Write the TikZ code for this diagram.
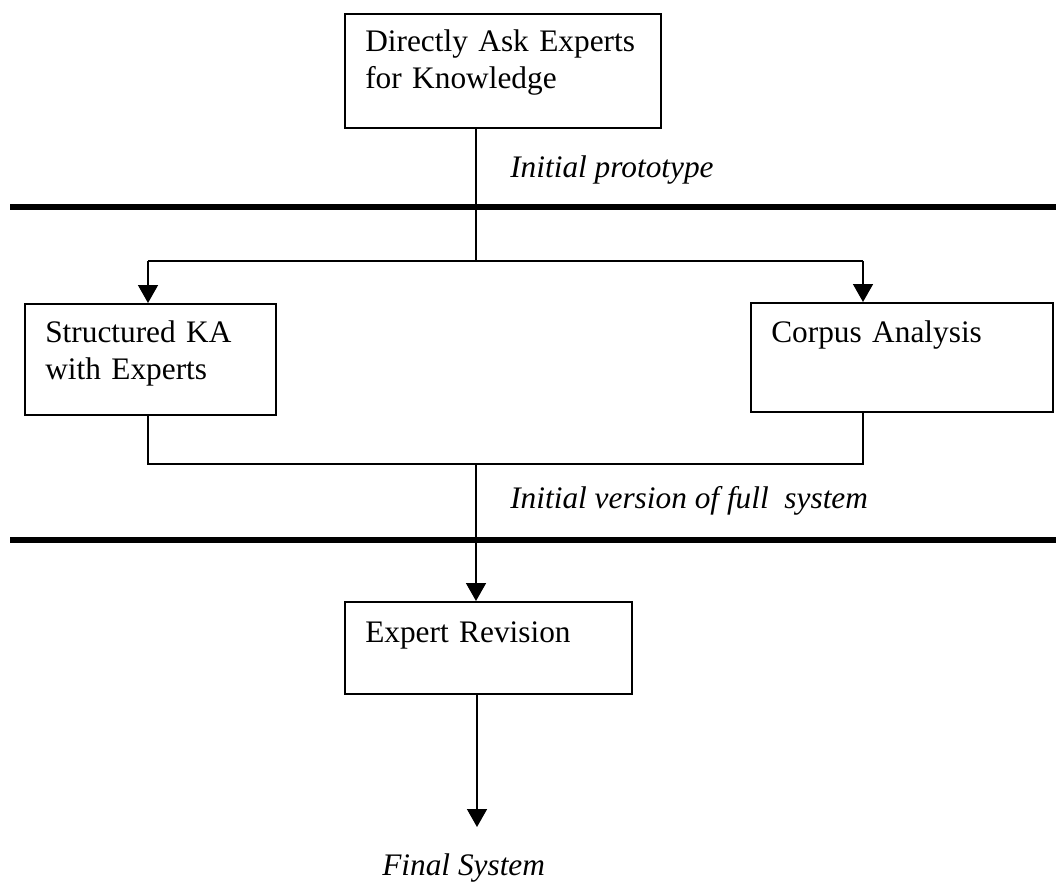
\documentclass[tikz,border=0pt]{standalone}
\usepackage{fontspec}
\setmainfont{Liberation Serif}
\usetikzlibrary{arrows.meta,calc}
\tikzset{
  boxnode/.style={draw, line width=1.2pt, rectangle, inner sep=0pt, anchor=north west},
  boxtext/.style={inner sep=0pt, anchor=base west, text width=10cm, align=left, font=\fontsize{23.5}{27.75}\selectfont},
  labeltext/.style={inner sep=0pt, anchor=base west, font=\fontsize{23.5}{27.75}\selectfont\itshape},
  conn/.style={line width=1.2pt},
  arrowconn/.style={line width=1.2pt, -{Triangle[width=15pt,length=13.5pt]}},
  phase/.style={line width=4.5pt}
}
\begin{document}
\begin{tikzpicture}[x=0.75pt,y=-0.75pt]
\useasboundingbox (0,0) rectangle (1056,884);
% boxes
\node[boxnode, minimum width=316*0.75pt, minimum height=114*0.75pt] (top) at (344,13) {};
\node[boxnode, minimum width=251*0.75pt, minimum height=111*0.75pt] (ka) at (24,303) {};
\node[boxnode, minimum width=302*0.75pt, minimum height=109*0.75pt] (corpus) at (750,302) {};
\node[boxnode, minimum width=287*0.75pt, minimum height=92*0.75pt] (rev) at (344,601) {};
% box texts
\node[boxtext] (toptext) at ($(top.north west)+(21,39)$) {Directly Ask Experts\\for Knowledge};
\node[boxtext] (katext) at ($(ka.north west)+(21,39)$) {Structured KA\\with Experts};
\node[boxtext] (corpustext) at ($(corpus.north west)+(21,40)$) {Corpus Analysis};
\node[boxtext] (revtext) at ($(rev.north west)+(21,41)$) {Expert Revision};
% phase separators
\coordinate (p1l) at (10,207);
\coordinate (p1r) at (1056,207);
\coordinate (p2l) at (10,540);
\coordinate (p2r) at (1056,540);
\draw[phase] (p1l) -- (p1r);
\draw[phase] (p2l) -- (p2r);
% labels
\node[labeltext] (lab1) at (510,178) {Initial prototype};
\node[labeltext] (lab2) at (510,508) {Initial version of full\ \ system};
\node[labeltext] (lab3) at (382,875) {Final System};
% connectors
\coordinate (trunk) at (476,261);
\coordinate (lsplit) at (148,261);
\coordinate (rsplit) at (863,261);
\coordinate (ljoin) at (148,464);
\coordinate (rjoin) at (863,464);
\coordinate (merge) at (476,464);
\coordinate (final) at (477,827);
\draw[conn] (top.south -| trunk) -- (trunk);
\draw[conn] (lsplit) -- (rsplit);
\draw[arrowconn] (lsplit) -- (lsplit |- ka.north);
\draw[arrowconn] (rsplit) -- (rsplit |- corpus.north);
\draw[conn] (ljoin |- ka.south) -- (ljoin) -- (rjoin) -- (rjoin |- corpus.south);
\draw[arrowconn] (merge) -- (merge |- rev.north);
\draw[arrowconn] (rev.south -| final) -- (final);
\end{tikzpicture}
\end{document}
